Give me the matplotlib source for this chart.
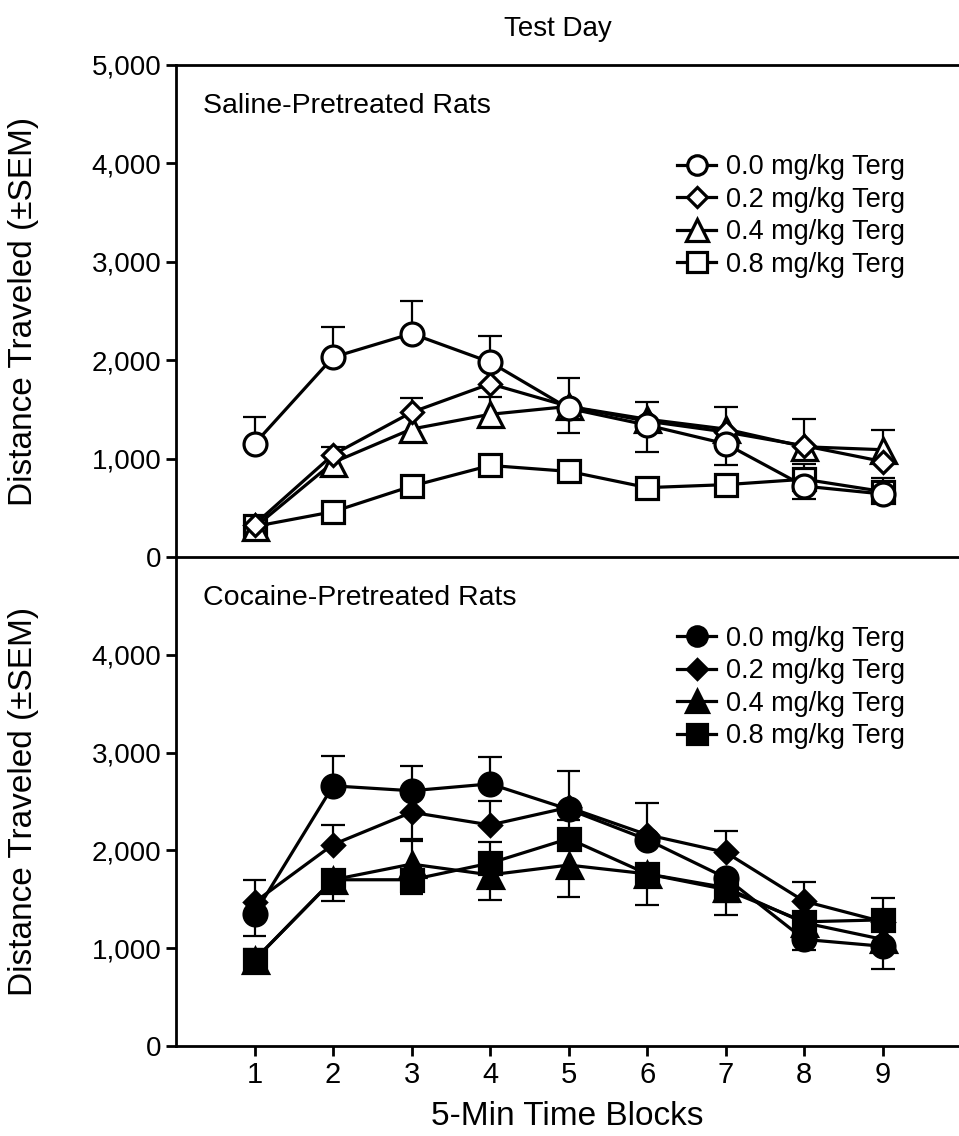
import matplotlib
matplotlib.use('Agg')
from matplotlib import pyplot as plt
from matplotlib.ticker import StrMethodFormatter

plt.rcParams['font.family'] = ['Liberation Sans', 'DejaVu Sans']

blocks = [1, 2, 3, 4, 5, 6, 7, 8, 9]
doses  = ['0.0 mg/kg Terg', '0.2 mg/kg Terg', '0.4 mg/kg Terg', '0.8 mg/kg Terg']

# saline-pretreated rats: means, SEM drawn up (hi) / down (lo)
sal_00     = [1150, 2030, 2270, 1980, 1510, 1340, 1150, 720, 640]
sal_00_hi  = [270, 310, 330, 270, 310, 240, 0, 0, 0]
sal_00_lo  = [0, 0, 0, 0, 250, 270, 215, 130, 0]
sal_02     = [330, 1040, 1470, 1760, 1530, 1380, 1270, 1130, 970]
sal_02_hi  = [0, 80, 150, 0, 0, 0, 0, 0, 0]
sal_02_lo  = [0, 0, 0, 0, 0, 0, 0, 0, 0]
sal_04     = [300, 960, 1300, 1450, 1530, 1400, 1300, 1120, 1090]
sal_04_hi  = [0, 0, 0, 175, 0, 0, 225, 285, 200]
sal_04_lo  = [0, 0, 0, 0, 0, 0, 0, 0, 0]
sal_08     = [310, 460, 720, 930, 870, 705, 735, 790, 665]
sal_08_hi  = [0, 0, 0, 0, 0, 0, 0, 150, 140]
sal_08_lo  = [0, 0, 0, 0, 0, 0, 0, 0, 0]

# cocaine-pretreated rats
coc_00     = [1350, 2660, 2610, 2680, 2420, 2110, 1720, 1090, 1020]
coc_00_hi  = [350, 310, 250, 280, 390, 370, 0, 0, 0]
coc_00_lo  = [230, 0, 0, 0, 0, 0, 0, 110, 230]
coc_02     = [1470, 2060, 2390, 2260, 2440, 2160, 1980, 1480, 1270]
coc_02_hi  = [0, 200, 0, 250, 0, 0, 220, 200, 0]
coc_02_lo  = [0, 0, 270, 0, 0, 0, 0, 0, 0]
coc_04     = [880, 1700, 1860, 1750, 1850, 1760, 1620, 1260, 1090]
coc_04_hi  = [0, 0, 240, 0, 0, 0, 0, 0, 0]
coc_04_lo  = [0, 0, 0, 260, 330, 0, 0, 0, 0]
coc_08     = [880, 1700, 1700, 1870, 2120, 1760, 1600, 1270, 1290]
coc_08_hi  = [110, 0, 0, 220, 190, 0, 0, 0, 220]
coc_08_lo  = [0, 220, 150, 0, 0, 320, 260, 0, 0]

saline  = [(sal_00, sal_00_hi, sal_00_lo), (sal_02, sal_02_hi, sal_02_lo),
           (sal_04, sal_04_hi, sal_04_lo), (sal_08, sal_08_hi, sal_08_lo)]
cocaine = [(coc_00, coc_00_hi, coc_00_lo), (coc_02, coc_02_hi, coc_02_lo),
           (coc_04, coc_04_hi, coc_04_lo), (coc_08, coc_08_hi, coc_08_lo)]

markers = ['o', 'D', '^', 's']
msizes  = [16.5, 11.5, 18, 16.5]


def sem_bars(ax, y, hi, lo):
	for xi, yi, h, l in zip(blocks, y, hi, lo):
		for top in (yi + h, yi - l):
			if top == yi:
				continue
			ax.vlines(xi, yi, top, color='black', lw=1.6, zorder=1)
			ax.hlines(top, xi - 0.15, xi + 0.15, color='black', lw=1.6, zorder=1)


def draw_panel(ax, groups, face, zorders):
	for (y, hi, lo), m, ms, lab, z in zip(groups, markers, msizes, doses, zorders):
		sem_bars(ax, y, hi, lo)
		ax.plot(blocks, y, color='black', lw=2.3, marker=m, ms=ms,
				mfc=face, mec='black', mew=2.3, label=lab, zorder=z)


fig = plt.figure(figsize=(9.59, 11.36), dpi=100)
ax_top = fig.add_axes([0.1835, 0.5097, 0.8165, 0.4331])
ax_bot = fig.add_axes([0.1835, 0.0792, 0.8165, 0.4305])

draw_panel(ax_top, saline, 'white', [6, 5, 4, 3])
draw_panel(ax_bot, cocaine, 'black', [3, 4, 5, 6])

for ax, top in ((ax_top, 0.819), (ax_bot, 0.859)):
	ax.set_facecolor('none')
	ax.set_xlim(0, 9.97)
	ax.set_ylim(0, 5000)
	ax.spines['right'].set_visible(False)
	for s in ax.spines.values():
		s.set_linewidth(2)
	ax.yaxis.set_major_formatter(StrMethodFormatter('{x:,.0f}'))
	ax.tick_params(axis='y', labelsize=20, width=2, length=7, direction='out')
	ax.tick_params(axis='x', labelsize=21, width=2, length=7, direction='out')
	ax.set_ylabel('Distance Traveled (\u00b1SEM)', fontsize=24)
	ax.yaxis.set_label_coords(-0.175, 0.5)
	ax.legend(loc='upper left', bbox_to_anchor=(0.64, top), frameon=False,
			  fontsize=19.5, handlelength=1.45, handletextpad=0.35,
			  labelspacing=0.24, markerscale=0.85, borderpad=0, borderaxespad=0)

ax_top.set_yticks([0, 1000, 2000, 3000, 4000, 5000])
ax_bot.set_yticks([0, 1000, 2000, 3000, 4000])
ax_top.set_xticks([])
ax_bot.spines['top'].set_visible(False)
ax_bot.set_xticks(blocks)
ax_bot.set_xlabel('5-Min Time Blocks', fontsize=24, labelpad=9)

ax_top.text(0.035, 0.917, 'Saline-Pretreated Rats', transform=ax_top.transAxes,
			fontsize=20.5, va='center')
ax_bot.text(0.035, 0.917, 'Cocaine-Pretreated Rats', transform=ax_bot.transAxes,
			fontsize=20.5, va='center')

fig.text(0.582, 0.9745, 'Test Day', ha='center', va='center', fontsize=20)

fig.savefig('out.png', dpi=100)
